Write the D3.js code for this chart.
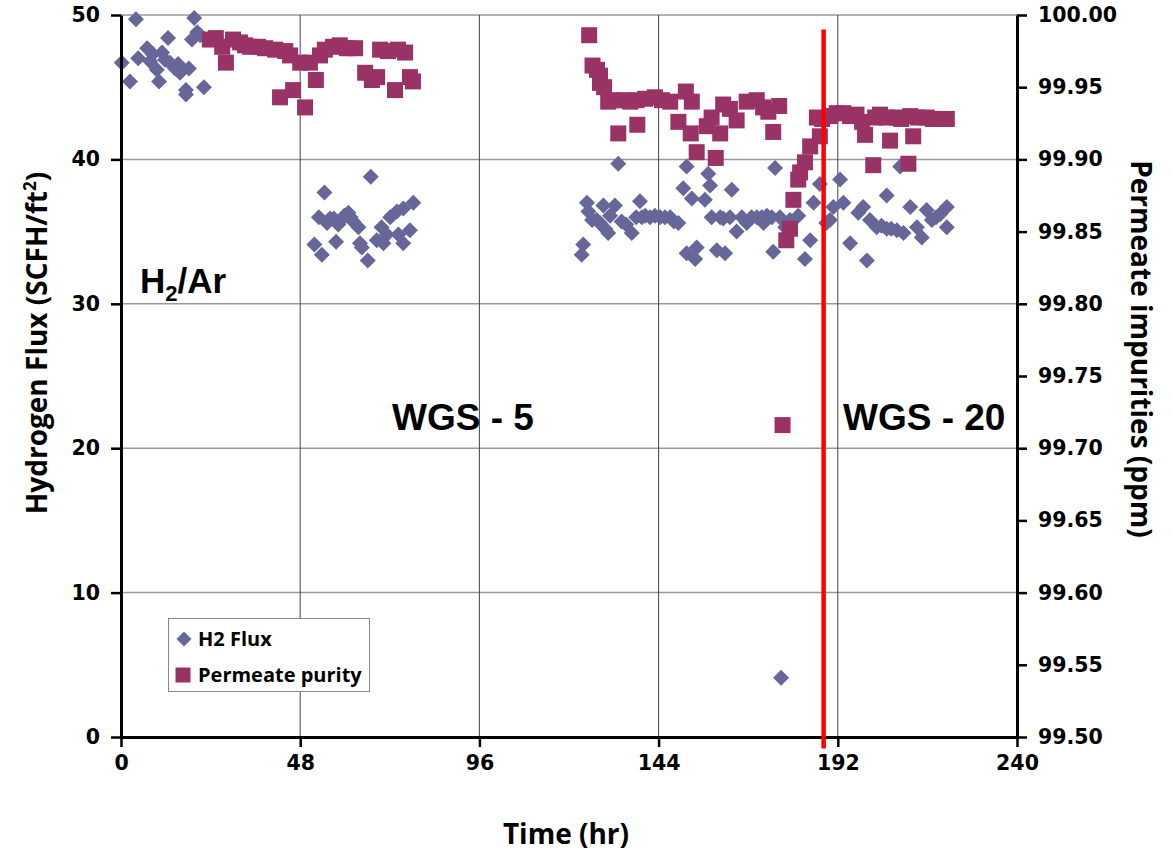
<!DOCTYPE html>
<html>
<head>
<meta charset="utf-8">
<script src="https://cdn.jsdelivr.net/npm/d3@7"></script>
<style>
  html, body { margin: 0; padding: 0; background: #fff; }
  svg { display: block; }
  .tick text { font-family: "DejaVu Sans", Verdana, sans-serif; font-weight: bold; font-size: 20.5px; fill: #000; }
  .title { font-family: "Open Sans", sans-serif; font-weight: bold; font-size: 28px; fill: #000; }
  .note { font-family: "Liberation Sans", Arial, sans-serif; font-weight: bold; fill: #000; }
  .legend text { font-family: "Open Sans", sans-serif; font-weight: bold; font-size: 20px; fill: #000; }
</style>
</head>
<body>
<svg id="chart" width="1173" height="857"></svg>
<script>
// tick values
const xTicks = [0, 48, 96, 144, 192, 240];
const leftTicks = [0, 10, 20, 30, 40, 50];
const rightTicks = [99.50, 99.55, 99.60, 99.65, 99.70, 99.75, 99.80, 99.85, 99.90, 99.95, 100.00];
const gridX = [48, 96, 144, 192];
const gridY = [10, 20, 30, 40, 50];

// switch-over marker (time, from, to on left axis)
const switchLine = { t: 188.2, top: 49, bottom: -0.8 };

// H2 flux, [time hr, SCFH/ft2]
const fluxPoints = [
  [0.2,46.7],[2.4,45.4],[4.0,49.7],[4.6,47.0],[7.0,47.7],[7.8,46.8],[8.5,47.3],[9.6,46.2],
  [10.2,45.4],[11.0,47.4],[11.8,46.9],[12.6,48.4],[13.1,46.7],[14.5,46.3],[15.3,46.6],[15.8,46.0],
  [17.4,44.8],[17.4,44.5],[18.2,46.3],[19.0,48.3],[19.6,49.8],[20.4,48.8],[21.2,48.6],[22.2,45.0],

  [51.8,34.1],[53.0,36.0],[53.8,33.4],[54.5,37.7],[55.2,35.6],[56.0,35.9],[57.0,35.9],[57.6,34.3],
  [58.2,35.5],[59.0,35.8],[59.8,36.1],[60.9,36.3],[61.5,36.0],[62.2,35.7],[63.6,35.3],[64.0,34.2],
  [64.5,33.9],[66.1,33.0],[66.9,38.8],[68.5,34.4],[69.8,35.3],[70.3,34.2],[71.2,34.8],[72.1,36.0],
  [73.9,36.4],[74.3,34.8],[75.6,36.6],[75.6,34.2],[77.4,35.1],[78.3,37.0],

  [123.4,33.4],[123.8,34.1],[124.8,37.0],[125.2,36.4],[126.2,35.8],[127.4,35.8],[128.3,35.6],[129.2,36.8],
  [129.7,35.2],[130.5,34.9],[131.0,36.1],[132.3,36.8],[133.2,39.7],[134.1,35.7],[135.3,35.5],[136.8,34.9],
  [138.0,36.0],[139.0,37.1],[139.5,36.0],[140.4,36.1],[141.7,36.0],[143.0,36.1],[144.4,36.0],[145.7,36.0],
  [147.1,36.0],[148.1,35.7],[149.3,35.6],[150.6,38.0],[151.5,39.5],[151.5,33.5],[152.9,37.3],[153.8,33.1],
  [154.2,33.9],[156.4,37.2],[157.3,39.0],[157.8,38.2],[158.2,36.0],[159.6,33.7],[160.5,36.0],[161.3,35.9],
  [161.8,33.5],[163.1,36.0],[163.6,37.9],[164.9,35.0],[166.3,36.0],[167.6,35.6],[168.9,36.0],[170.3,36.0],
  [171.6,36.0],[172.1,35.6],[173.0,36.1],[174.3,36.0],[174.7,33.6],[175.2,39.4],[176.5,36.0],[176.8,4.1],
  [177.9,35.3],[179.2,35.8],[181.4,36.1],[183.2,33.1],[184.6,34.4],[185.5,37.0],[187.2,38.3],[188.9,35.6],
  [189.9,35.8],[190.8,36.7],[192.6,38.6],[193.5,37.0],[195.3,34.2],[197.5,36.3],[198.8,36.7],[199.8,33.0],
  [200.6,35.8],[202.4,35.3],[203.7,35.4],[205.1,37.5],[205.1,35.2],[206.3,35.2],[207.8,35.1],[208.7,39.5],
  [209.6,34.9],[211.4,36.7],[213.2,35.3],[214.5,34.6],[215.8,36.5],[217.2,35.8],[218.3,36.0],[219.4,36.2],
  [221.2,36.7],[221.2,35.3]
];

// permeate purity, [time hr, %]
const purityPoints = [
  [23.8,99.983],[25.4,99.984],[27.1,99.978],[28.1,99.967],[30.0,99.983],[31.9,99.981],[33.2,99.979],
  [34.6,99.978],[36.7,99.978],[38.6,99.977],[41.3,99.976],[42.6,99.943],[44.0,99.975],[45.3,99.972],
  [46.1,99.948],[48.0,99.967],[49.3,99.936],[50.6,99.967],[52.2,99.955],[53.3,99.972],[54.6,99.976],
  [56.8,99.978],[58.6,99.979],[60.5,99.977],[62.7,99.977],[65.4,99.960],[67.2,99.955],[68.6,99.957],
  [69.4,99.976],[71.5,99.975],[73.4,99.948],[74.2,99.976],[76.1,99.974],[77.4,99.957],[78.2,99.954],

  [125.4,99.986],[126.3,99.965],[127.5,99.962],[128.3,99.958],[128.3,99.953],[129.4,99.950],[130.5,99.940],
  [132.1,99.941],[133.2,99.918],[134.6,99.941],[136.4,99.940],[138.1,99.941],[138.3,99.924],[140.4,99.942],
  [143.0,99.943],[144.9,99.941],[147.1,99.940],[149.3,99.926],[151.3,99.947],[152.9,99.940],[152.6,99.918],
  [154.2,99.905],[156.9,99.923],[158.2,99.929],[159.3,99.901],[160.5,99.918],[161.3,99.938],[163.1,99.935],
  [164.9,99.927],[167.6,99.940],[170.3,99.941],[172.0,99.936],[173.4,99.933],[174.7,99.919],[176.3,99.937],
  [177.2,99.716],[178.2,99.844],[179.2,99.852],[180.1,99.872],[181.4,99.886],[181.9,99.891],[183.2,99.898],
  [184.6,99.909],[186.4,99.929],[187.2,99.916],[187.8,99.928],[190.0,99.930],[191.7,99.932],[193.5,99.932],
  [195.3,99.930],[197.0,99.931],[198.5,99.926],[199.3,99.917],[201.5,99.896],[202.0,99.929],[203.3,99.931],
  [205.0,99.929],[206.0,99.913],[207.8,99.929],[209.0,99.928],[210.9,99.897],[211.4,99.930],[212.2,99.916],
  [213.5,99.929],[215.8,99.929],[217.5,99.928],[219.4,99.928],[221.2,99.928]
];

const FLUX_COLOR = '#666699';
const PURITY_COLOR = '#993366';
const diamond = 'M0,-8L8,0L0,8L-8,0Z';
const square = 'M-8,-8H8V8H-8Z';

const svg = d3.select('#chart');
const L = 121, R = 1017, T = 15, B = 737;

const x = d3.scaleLinear().domain([0, 240]).range([L, R]);
const yL = d3.scaleLinear().domain([0, 50]).range([B, T]);
const yR = d3.scaleLinear().domain([99.5, 100]).range([B, T]);

// grid
svg.append('g').selectAll('line').data(gridY).enter().append('line')
  .attr('x1', L).attr('x2', R).attr('y1', d => yL(d)).attr('y2', d => yL(d))
  .attr('stroke', '#999').attr('stroke-width', 1.5);
svg.append('g').selectAll('line').data(gridX).enter().append('line')
  .attr('x1', d => x(d)).attr('x2', d => x(d)).attr('y1', T).attr('y2', B)
  .attr('stroke', '#444').attr('stroke-width', 1);

// points
svg.append('g').selectAll('path').data(fluxPoints).enter().append('path')
  .attr('d', diamond).attr('fill', FLUX_COLOR)
  .attr('transform', d => `translate(${x(d[0])},${yL(d[1])})`);
svg.append('g').selectAll('path').data(purityPoints).enter().append('path')
  .attr('d', square).attr('fill', PURITY_COLOR)
  .attr('transform', d => `translate(${x(d[0])},${yR(d[1])})`);

// axes
function styleAxis(g) {
  g.select('.domain').attr('stroke', '#000').attr('stroke-width', 3);
  g.selectAll('.tick line').attr('stroke', '#000').attr('stroke-width', 2.5);
}
svg.append('g').attr('transform', `translate(${L},0)`)
  .call(d3.axisLeft(yL).tickValues(leftTicks).tickSize(10).tickSizeOuter(0).tickPadding(11))
  .call(styleAxis);
svg.append('g').attr('transform', `translate(${R},0)`)
  .call(d3.axisRight(yR).tickValues(rightTicks).tickFormat(d3.format('.2f')).tickSize(10).tickSizeOuter(0).tickPadding(11))
  .call(styleAxis);
svg.append('g').attr('transform', `translate(0,${B})`)
  .call(d3.axisBottom(x).tickValues(xTicks).tickSize(10).tickSizeOuter(0).tickPadding(8))
  .call(styleAxis);
svg.selectAll('.tick text').attr('font-family', null).attr('font-size', null);

// switch line
svg.append('line')
  .attr('x1', x(switchLine.t)).attr('x2', x(switchLine.t))
  .attr('y1', yL(switchLine.top)).attr('y2', yL(switchLine.bottom))
  .attr('stroke', '#ff0000').attr('stroke-width', 4.5);

// axis titles
svg.append('text').attr('class', 'title').attr('text-anchor', 'middle')
  .attr('x', 566).attr('y', 844).text('Time (hr)');

const lt = svg.append('text').attr('class', 'title').attr('text-anchor', 'middle')
  .attr('transform', 'translate(47,343) rotate(-90)');
lt.append('tspan').text('Hydrogen Flux (SCFH/ft');
lt.append('tspan').attr('font-size', 17).attr('dy', -11).text('2');
lt.append('tspan').attr('dy', 11).text(')');

svg.append('text').attr('class', 'title').attr('text-anchor', 'middle')
  .attr('transform', 'translate(1131,349) rotate(90)').text('Permeate impurities (ppm)');

// notes
const h2 = svg.append('text').attr('class', 'note').attr('x', 140).attr('y', 293).attr('font-size', 35);
h2.append('tspan').text('H');
h2.append('tspan').attr('font-size', 22).attr('dy', 8).text('2');
h2.append('tspan').attr('dy', -8).text('/Ar');
svg.append('text').attr('class', 'note').attr('x', 392).attr('y', 430).attr('font-size', 37).text('WGS - 5');
svg.append('text').attr('class', 'note').attr('x', 843).attr('y', 430).attr('font-size', 37).text('WGS - 20');

// legend
const lg = svg.append('g').attr('class', 'legend');
lg.append('rect').attr('x', 168.5).attr('y', 618.5).attr('width', 201).attr('height', 73)
  .attr('fill', '#fff').attr('stroke', '#888').attr('stroke-width', 1);
lg.append('path').attr('d', 'M0,-7.5L7.5,0L0,7.5L-7.5,0Z').attr('fill', FLUX_COLOR)
  .attr('transform', 'translate(184,639)');
lg.append('path').attr('d', 'M-7.5,-7.5H7.5V7.5H-7.5Z').attr('fill', PURITY_COLOR)
  .attr('transform', 'translate(183,675)');
lg.append('text').attr('x', 198).attr('y', 646).text('H2 Flux');
lg.append('text').attr('x', 198).attr('y', 682).text('Permeate purity');
</script>
</body>
</html>
